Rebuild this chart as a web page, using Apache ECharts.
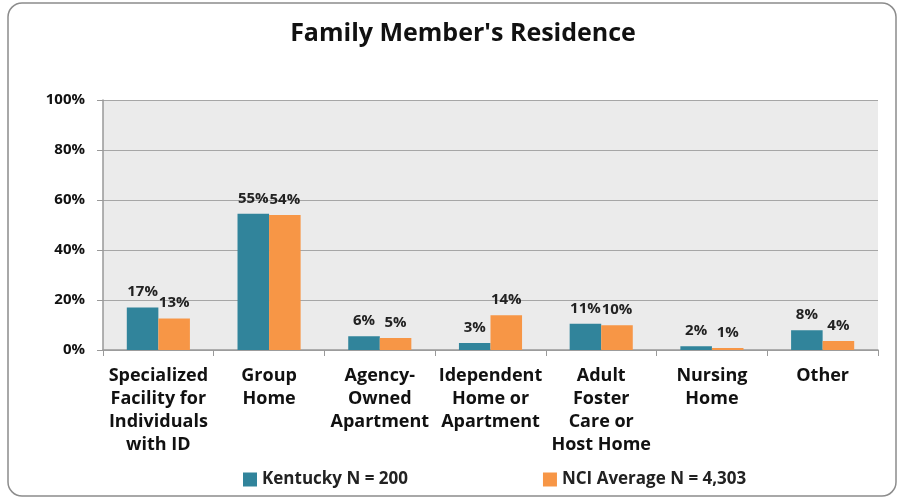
<!DOCTYPE html>
<html>
<head>
<meta charset="utf-8">
<script src="https://cdn.jsdelivr.net/npm/echarts@6/dist/echarts.min.js"></script>
<style>
  html, body { margin: 0; padding: 0; background: #fff; }
  #chart { width: 900px; height: 499px; }
</style>
</head>
<body>
<div id="chart"></div>
<script>
const categories = [
  'Specialized\nFacility for\nIndividuals\nwith ID',
  'Group\nHome',
  'Agency-\nOwned\nApartment',
  'Idependent\nHome or\nApartment',
  'Adult\nFoster\nCare or\nHost Home',
  'Nursing\nHome',
  'Other'
];
const kentucky = [17, 54.5, 5.5, 2.8, 10.5, 1.5, 7.9];
const nciAverage = [12.6, 54, 4.8, 13.9, 9.9, 0.8, 3.6];
const yTicks = [0, 20, 40, 60, 80, 100];

const font = '"Open Sans", sans-serif';

const chart = echarts.init(document.getElementById('chart'));

const barLabel = {
  show: true,
  position: 'top',
  distance: 8,
  fontFamily: font,
  fontWeight: 'bold',
  fontSize: 15,
  color: '#222',
  formatter: p => Math.round(p.value) + '%'
};

chart.setOption({
  animation: false,
  title: {
    text: "Family Member's Residence",
    left: 458,
    textAlign: 'center',
    top: 16,
    textStyle: { fontFamily: font, fontWeight: 'bold', fontSize: 25, color: '#111' }
  },
  graphic: [{
    type: 'rect',
    shape: { x: 8, y: 3, width: 888, height: 493, r: 14 },
    style: { fill: 'none', stroke: '#8c8c8c', lineWidth: 1.5 },
    z: -1
  }],
  legend: {
    left: 238,
    top: 466,
    itemWidth: 14,
    itemHeight: 14,
    itemGap: 135,
    icon: 'rect',
    textStyle: { fontFamily: font, fontWeight: 'bold', fontSize: 17, color: '#222' },
    data: ['Kentucky N = 200', 'NCI Average N = 4,303']
  },
  grid: {
    left: 103, right: 22, top: 100, bottom: 149,
    show: true,
    backgroundColor: '#ebebeb',
    borderWidth: 0
  },
  xAxis: {
    type: 'category',
    data: categories,
    axisLine: { lineStyle: { color: '#999', width: 1.5 } },
    axisTick: { show: true, length: 6, lineStyle: { color: '#999' } },
    axisLabel: {
      interval: 0,
      margin: 14,
      fontFamily: font,
      fontWeight: 'bold',
      fontSize: 18,
      lineHeight: 23,
      color: '#111'
    }
  },
  yAxis: {
    type: 'value',
    min: yTicks[0],
    max: yTicks[yTicks.length - 1],
    interval: 20,
    axisLine: { show: true, lineStyle: { color: '#999', width: 1.5 } },
    axisTick: { show: true, length: 6, lineStyle: { color: '#999' } },
    splitLine: { lineStyle: { color: '#a6a6a6', width: 1.2 } },
    axisLabel: {
      margin: 18,
      fontFamily: font,
      fontWeight: 'bold',
      fontSize: 15,
      color: '#111',
      formatter: '{value}%'
    }
  },
  series: [
    {
      name: 'Kentucky N = 200',
      type: 'bar',
      data: kentucky,
      barGap: '0%',
      barCategoryGap: '43%',
      itemStyle: { color: '#31849b' },
      label: barLabel
    },
    {
      name: 'NCI Average N = 4,303',
      type: 'bar',
      data: nciAverage,
      barGap: '0%',
      barCategoryGap: '43%',
      itemStyle: { color: '#f79646' },
      label: barLabel
    }
  ]
});
</script>
</body>
</html>
